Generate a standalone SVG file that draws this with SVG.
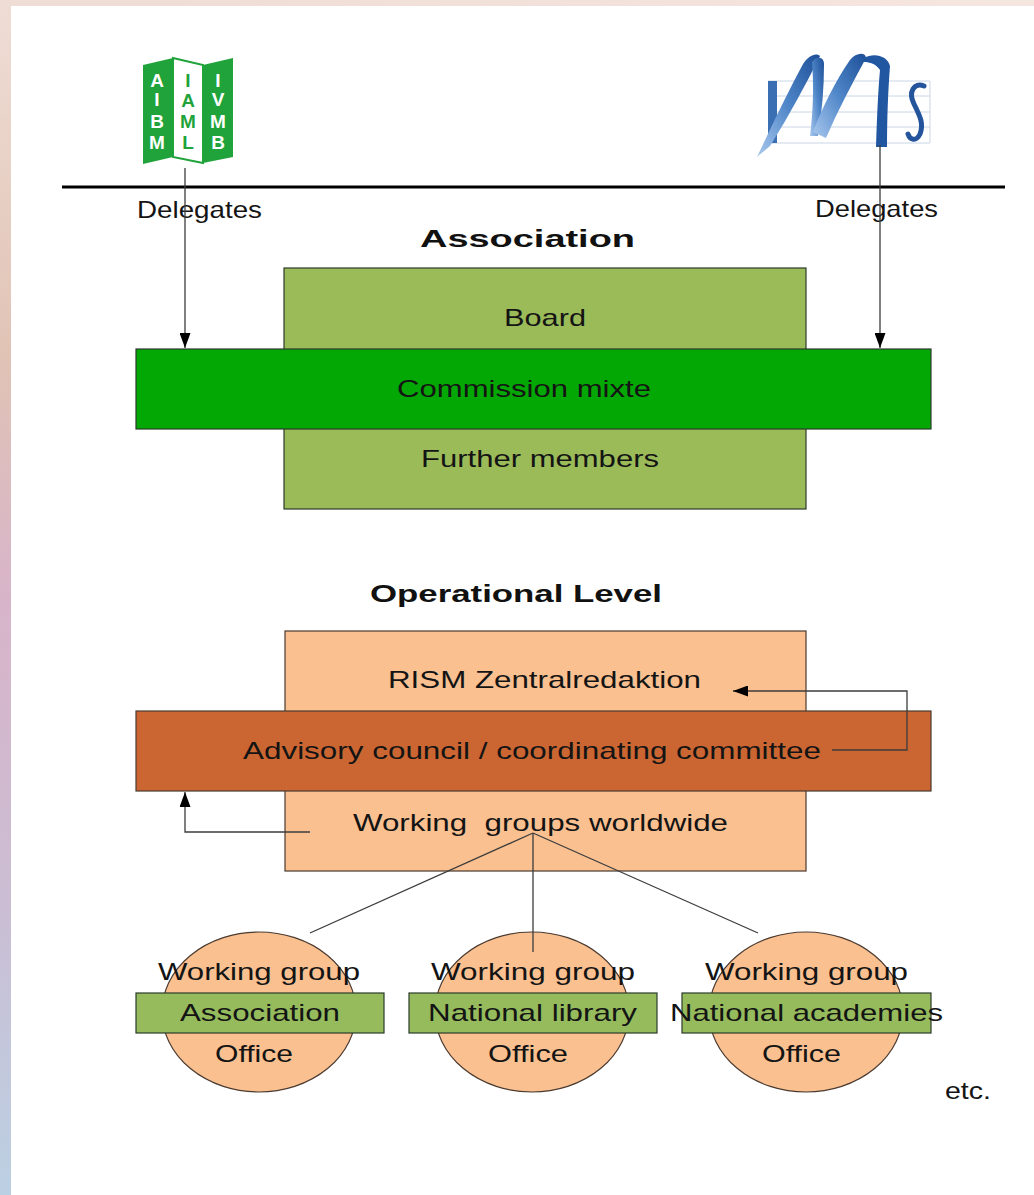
<svg xmlns="http://www.w3.org/2000/svg" width="1034" height="1195" viewBox="0 0 1034 1195">
<style>
.t{font-family:"Liberation Sans",Arial,sans-serif;font-size:24px;fill:#141414}
.b{font-weight:bold;fill:#111}
.lg{stroke:#2b3b2b;stroke-width:1.2}
.pe{stroke:#4a3a30;stroke-width:1.2}
.cn{fill:none;stroke:#3c3c3c;stroke-width:1.3}
.wl{font-family:"Liberation Sans",Arial,sans-serif;font-size:19px;font-weight:bold;fill:#fff}
.wg{font-family:"Liberation Sans",Arial,sans-serif;font-size:19px;font-weight:bold;fill:#1fa33a}
</style>
<defs>
<linearGradient id="side" x1="0" y1="0" x2="0" y2="1">
<stop offset="0" stop-color="#efddd5"/>
<stop offset="0.3" stop-color="#e0c3b5"/>
<stop offset="0.5" stop-color="#d8b4c9"/>
<stop offset="0.75" stop-color="#cbbdd3"/>
<stop offset="1" stop-color="#bcd0e3"/>
</linearGradient>
<linearGradient id="top" x1="0" y1="0" x2="1" y2="0">
<stop offset="0" stop-color="#efdcd4"/>
<stop offset="1" stop-color="#f5e6df"/>
</linearGradient>
<linearGradient id="blue" x1="0" y1="1" x2="1" y2="0">
<stop offset="0" stop-color="#a9c8ee"/>
<stop offset="0.5" stop-color="#4f86c8"/>
<stop offset="1" stop-color="#1d4f98"/>
</linearGradient>
<marker id="ah" markerWidth="15" markerHeight="11" refX="15" refY="5.5" orient="auto" markerUnits="userSpaceOnUse">
<path d="M0,0 L15,5.5 L0,11 Z" fill="#000"/>
</marker>
</defs>
<rect x="0" y="0" width="1034" height="1195" fill="#fff"/>
<rect x="0" y="0" width="1034" height="6" fill="url(#top)"/>
<rect x="0" y="0" width="11" height="1195" fill="url(#side)"/>

<g id="logo-iaml">
<polygon points="143,65 173,58 173,157 143,164" fill="#1fa33a"/>
<polygon points="173,58 203,65 203,163 173,157" fill="#fff" stroke="#1fa33a" stroke-width="2"/>
<polygon points="203,65 233,58 233,157 203,163" fill="#1fa33a"/>
<text class="wl" x="157" y="87" text-anchor="middle">A</text>
<text class="wl" x="157" y="106" text-anchor="middle">I</text>
<text class="wl" x="157" y="128" text-anchor="middle">B</text>
<text class="wl" x="157" y="149" text-anchor="middle">M</text>
<text class="wg" x="188" y="87" text-anchor="middle">I</text>
<text class="wg" x="188" y="107" text-anchor="middle">A</text>
<text class="wg" x="188" y="128" text-anchor="middle">M</text>
<text class="wg" x="188" y="149" text-anchor="middle">L</text>
<text class="wl" x="218" y="87" text-anchor="middle">I</text>
<text class="wl" x="218" y="106" text-anchor="middle">V</text>
<text class="wl" x="218" y="128" text-anchor="middle">M</text>
<text class="wl" x="218" y="149" text-anchor="middle">B</text>
</g>

<g id="logo-ims">
<g stroke="#cbd6e6" stroke-width="1">
<line x1="768" y1="81" x2="930" y2="81"/>
<line x1="768" y1="96" x2="930" y2="96"/>
<line x1="768" y1="112" x2="930" y2="112"/>
<line x1="768" y1="127" x2="930" y2="127"/>
<line x1="768" y1="143" x2="930" y2="143"/>
<line x1="930" y1="81" x2="930" y2="143"/>
</g>
<rect x="768" y="81" width="9" height="62" fill="#3b6fb3"/>
<path d="M757,157 C772,125 788,92 803,64 C808,56 816,52 820,56 C806,84 790,114 770,146 Z" fill="url(#blue)"/>
<path d="M812,62 C816,56 824,56 824,64 C824,88 822,112 818,136 L810,136 C813,112 814,88 812,62 Z" fill="url(#blue)"/>
<path d="M813,132 C822,108 836,80 850,60 C856,52 866,52 866,58 C852,84 838,110 826,138 Z" fill="url(#blue)"/>
<path d="M864,58 C874,52 888,56 890,66 C888,92 887,118 887,147 L876,147 C877,118 878,92 880,70 C876,64 870,62 864,62 Z" fill="#2156a0"/>
<path d="M924,86 C914,82 908,92 914,104 C920,116 924,124 920,134 C916,142 910,140 908,134" fill="none" stroke="#23549c" stroke-width="5" stroke-linecap="round"/>
</g>

<line x1="62" y1="187" x2="1005" y2="187" stroke="#000" stroke-width="3"/>

<g id="association">
<text class="t" x="137" y="218" font-size="20" textLength="125" lengthAdjust="spacingAndGlyphs">Delegates</text>
<text class="t" x="815" y="217" font-size="20" textLength="123" lengthAdjust="spacingAndGlyphs">Delegates</text>
<text class="t b" x="420" y="247" font-size="28" textLength="215" lengthAdjust="spacingAndGlyphs">Association</text>
</g>

<g id="board">
<rect x="284" y="268" width="522" height="241" fill="#9bbb59" class="lg"/>
<text class="t" x="504" y="326" textLength="82" lengthAdjust="spacingAndGlyphs">Board</text>
<text class="t" x="421" y="467" textLength="238" lengthAdjust="spacingAndGlyphs">Further members</text>
</g>
<g id="commission">
<rect x="136" y="349" width="795" height="80" fill="#04a804" class="lg"/>
<text class="t" x="397" y="397" textLength="254" lengthAdjust="spacingAndGlyphs">Commission mixte</text>
</g>

<g id="operational">
<text class="t b" x="370" y="602" font-size="29" textLength="292" lengthAdjust="spacingAndGlyphs">Operational Level</text>
</g>
<g id="rism">
<rect x="285" y="631" width="521" height="240" fill="#fac090" class="pe"/>
<text class="t" x="388" y="688" textLength="313" lengthAdjust="spacingAndGlyphs">RISM Zentralredaktion</text>
<text class="t" x="353" y="831" textLength="375" lengthAdjust="spacingAndGlyphs" style="white-space:pre">Working  groups worldwide</text>
</g>
<g id="advisory">
<rect x="136" y="711" width="795" height="80" fill="#cb6632" class="pe"/>
<text class="t" x="243" y="759" textLength="578" lengthAdjust="spacingAndGlyphs">Advisory council / coordinating committee</text>
</g>

<g id="wg-association">
<ellipse cx="259" cy="1012" rx="97" ry="80" fill="#fac090" class="pe"/>
<rect x="136" y="993" width="248" height="40" fill="#95bb5c" class="lg"/>
<text class="t" x="158" y="980" textLength="202" lengthAdjust="spacingAndGlyphs">Working group</text>
<text class="t" x="180" y="1021" textLength="160" lengthAdjust="spacingAndGlyphs">Association</text>
<text class="t" x="215" y="1062" textLength="78" lengthAdjust="spacingAndGlyphs">Office</text>
</g>
<g id="wg-library">
<ellipse cx="532" cy="1012" rx="97" ry="80" fill="#fac090" class="pe"/>
<rect x="409" y="993" width="248" height="40" fill="#95bb5c" class="lg"/>
<text class="t" x="431" y="980" textLength="204" lengthAdjust="spacingAndGlyphs">Working group</text>
<text class="t" x="428" y="1021" textLength="209" lengthAdjust="spacingAndGlyphs">National library</text>
<text class="t" x="488" y="1062" textLength="80" lengthAdjust="spacingAndGlyphs">Office</text>
</g>
<g id="wg-academies">
<ellipse cx="806" cy="1012" rx="97" ry="80" fill="#fac090" class="pe"/>
<rect x="682" y="993" width="249" height="40" fill="#95bb5c" class="lg"/>
<text class="t" x="705" y="980" textLength="203" lengthAdjust="spacingAndGlyphs">Working group</text>
<text class="t" x="670" y="1021" textLength="273" lengthAdjust="spacingAndGlyphs">National academies</text>
<text class="t" x="762" y="1062" textLength="79" lengthAdjust="spacingAndGlyphs">Office</text>
</g>
<g id="etc">
<text class="t" x="945" y="1099" textLength="46" lengthAdjust="spacingAndGlyphs">etc.</text>
</g>

<g id="connectors">
<line class="cn" x1="185" y1="168" x2="185" y2="348" marker-end="url(#ah)"/>
<line class="cn" x1="880" y1="145" x2="880" y2="348" marker-end="url(#ah)"/>
<polyline class="cn" points="832,750 907,750 907,691 733,691" marker-end="url(#ah)"/>
<polyline class="cn" points="310,832 185,832 185,792" marker-end="url(#ah)"/>
<line class="cn" x1="533" y1="833" x2="310" y2="933"/>
<line class="cn" x1="533" y1="833" x2="533" y2="952"/>
<line class="cn" x1="533" y1="833" x2="758" y2="933"/>
</g>
</svg>
